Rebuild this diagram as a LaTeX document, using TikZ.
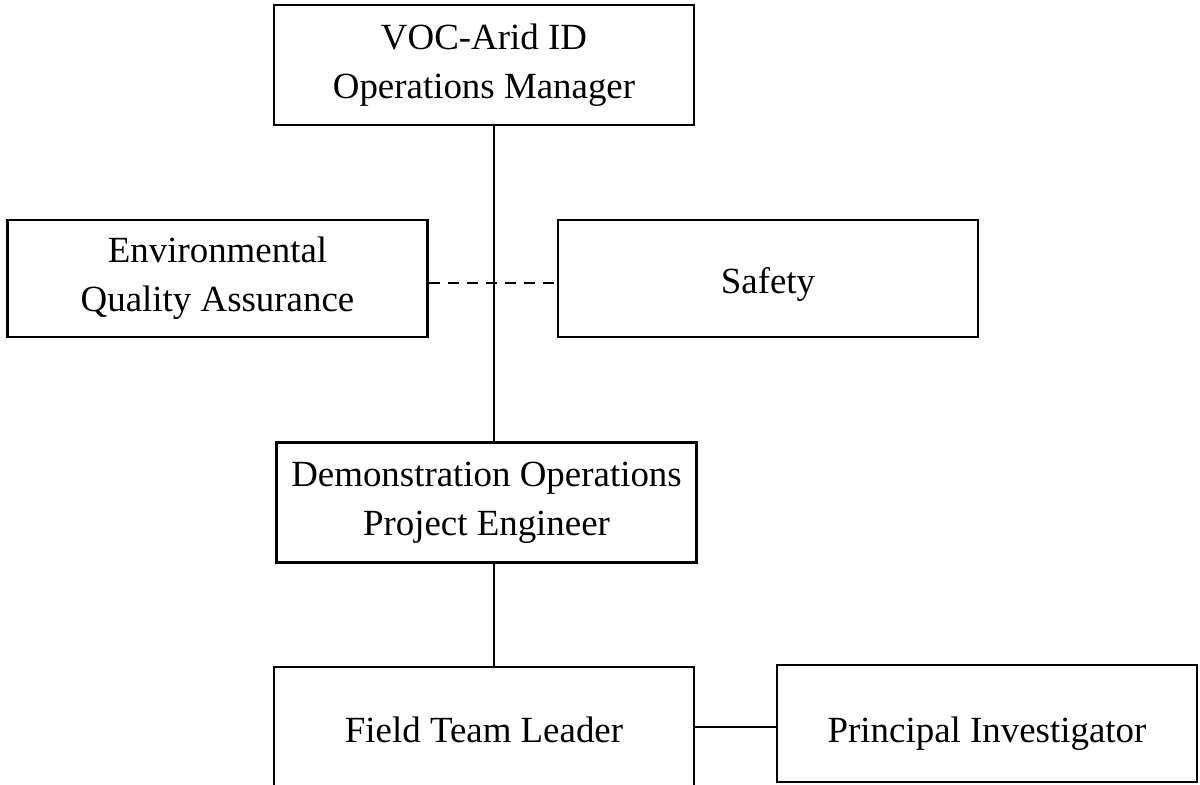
\documentclass[tikz,border=0pt]{standalone}
\usepackage{fontspec}
\setmainfont{Liberation Serif}
\usetikzlibrary{positioning}

\begin{document}
\begin{tikzpicture}[unit/.style={draw, line width=1.4pt, rectangle, minimum width=8.4cm, minimum height=2.4cm, align=center, text centered, font=\fontsize{21}{28}\selectfont},
		lower/.style={text height=0.75cm, text depth=0.15cm},
		link/.style={line width=1.4pt}]
			\useasboundingbox (0,0) rectangle (24,-15.68);
			
			\node [unit] (manager) at (9.68,-1.3) {VOC-Arid ID\\Operations Manager};
			\node [unit, minimum height=2.34cm] (envqa) at (4.35,-5.57) {Environmental\\Quality Assurance};
			\node [unit, lower, minimum height=2.34cm] (safety) at (15.36,-5.57) {Safety};
			\node [unit] (demo) at (9.73,-10.05) {Demonstration Operations\\Project Engineer};
			\node [unit, lower] (leader) at (9.68,-14.54) {Field Team Leader};
			\node [unit, lower, text height=0.9cm, minimum height=2.34cm] (investigator) at (19.74,-14.47) {Principal Investigator};
			
			% main line of the chart
			\coordinate (spine) at (9.88,0);
			\draw [link] (manager.south -| spine) -- (demo.north -| spine);
			\draw [link] (demo.south -| spine) -- (leader.north -| spine);
			
			%\draw [link] (manager) -- (demo);
			\draw [link, dash pattern=on 0.22cm off 0.16cm] ([yshift=-0.09cm]envqa.east) -- ([yshift=-0.09cm]safety.west);
			\draw [link] (leader.east) -- (leader.east -| investigator.west);
		\end{tikzpicture}
\end{document}
